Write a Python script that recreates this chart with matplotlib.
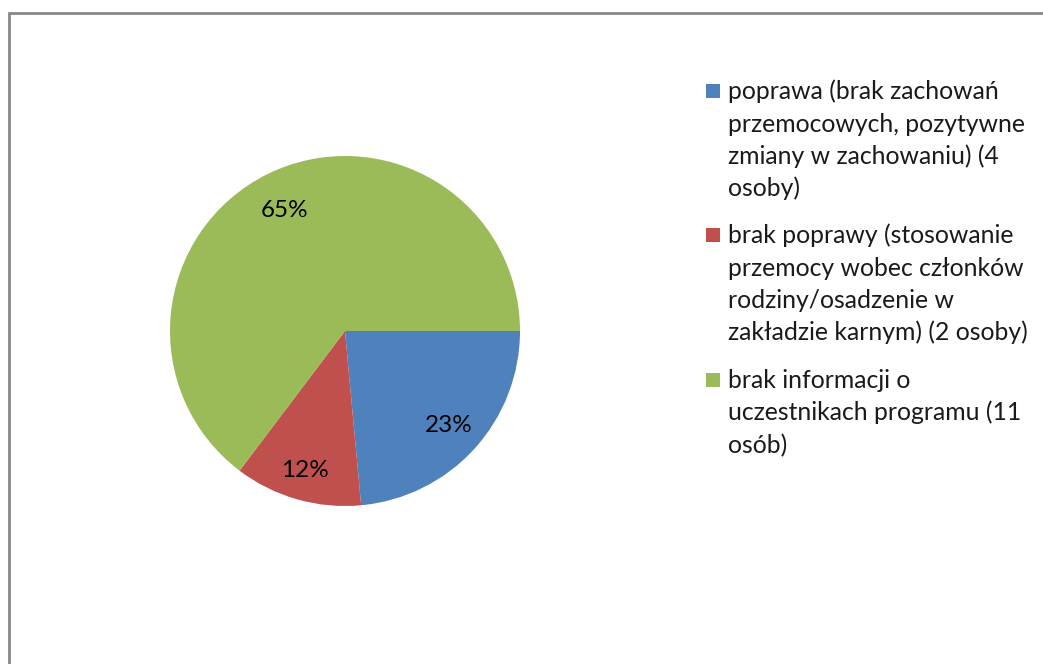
import numpy as np
import matplotlib.pyplot as plt
from matplotlib.patches import Rectangle

plt.rcParams['font.family'] = ['Lato', 'DejaVu Sans']

# data
labels = [
    "poprawa (brak zachowań\nprzemocowych, pozytywne\nzmiany w zachowaniu) (4\nosoby)",
    "brak poprawy (stosowanie\nprzemocy wobec członków\nrodziny/osadzenie w\nzakładzie karnym) (2 osoby)",
    "brak informacji o\nuczestnikach programu (11\nosób)",
]
counts = [4, 2, 11]
pct_labels = ["23%", "12%", "65%"]
colors = ["#4F81BD", "#C0504D", "#9BBB59"]
label_dist = [0.80, 0.83, 0.77]

W, H = 1043, 664
fig = plt.figure(figsize=(W / 100, H / 100), dpi=100)

# outer chart frame (runs off right and bottom edge)
fig.add_artist(Rectangle((8.5 / W, -0.1), 1.2, (H - 13) / H + 0.1,
                         transform=fig.transFigure, fill=False,
                         edgecolor="#888888", linewidth=2.0))

# pie, center (345, 331) px, radius 175 px
cx, cy, r = 345, H - 331, 175
ax = fig.add_axes([(cx - r) / W, (cy - r) / H, 2 * r / W, 2 * r / H])
wedges, texts = ax.pie(counts, colors=colors, startangle=0, counterclock=False,
                       labels=pct_labels, labeldistance=0.78,
                       wedgeprops=dict(linewidth=0),
                       textprops=dict(fontsize=17.5, color="black"))
# Excel puts the data labels at slightly different radii
for w, t, d in zip(wedges, texts, label_dist):
    mid = np.deg2rad((w.theta1 + w.theta2) / 2)
    t.set_position((d * np.cos(mid), d * np.sin(mid)))
    t.set_ha("center")
    t.set_va("center")
ax.set_xlim(-1, 1)
ax.set_ylim(-1, 1)
ax.set_aspect("equal")
ax.axis("off")

# legend drawn by hand: square + wrapped text, one line at a time
baselines = [99, 243, 388]
step = 32.5
for lab, col, yb in zip(labels, colors, baselines):
    fig.add_artist(Rectangle((706 / W, (H - yb + 1) / H), 14 / W, 14 / H,
                             transform=fig.transFigure, facecolor=col, edgecolor="none"))
    for i, line in enumerate(lab.split("\n")):
        fig.text(728 / W, (H - yb - i * step) / H, line, fontsize=17.8,
                 va="baseline", ha="left", color="#1a1a1a")

fig.savefig("out.png", dpi=100, facecolor="white")
